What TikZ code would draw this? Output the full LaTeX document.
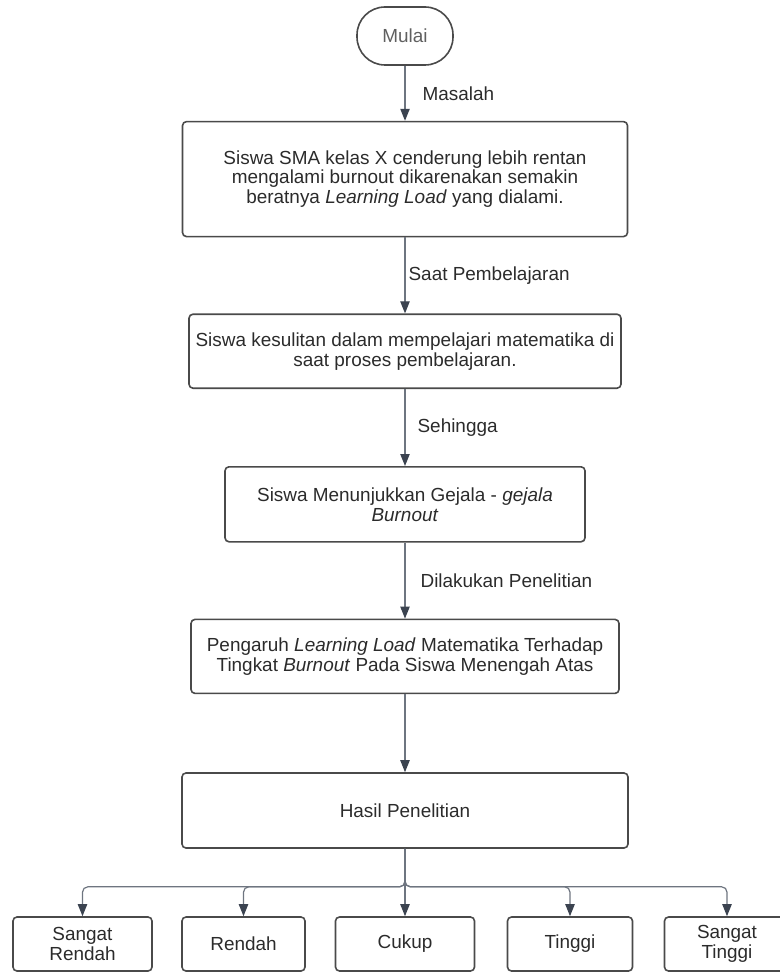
\documentclass[tikz,border=0pt]{standalone}
\usepackage{fontspec}
\setmainfont{Liberation Sans}
\usetikzlibrary{positioning,arrows.meta}
\definecolor{boxgray}{HTML}{4A4A4A}
\definecolor{linegray}{HTML}{6E7580}
\definecolor{tipgray}{HTML}{3B4350}
\definecolor{textdark}{HTML}{2B2B2B}
\tikzset{
  terminal/.style={ % image of the start node
    draw=boxgray, line width=1.2pt, rectangle, rounded corners=21pt,
    minimum width=72pt, minimum height=43.5pt,
    text=textdark!75, font=\fontsize{14.2}{15}\selectfont
  },
  process/.style={ % image of a process box
    draw=boxgray, line width=1.2pt, rectangle, rounded corners=3pt,
    align=center, inner sep=0pt, text=textdark,
    font=\fontsize{14.2}{15}\selectfont
  },
  result/.style={ % image of one result box in the bottom row
    process, minimum height=40.5pt
  },
  flow/.style={ % connector between two boxes
    draw=linegray, line width=0.9pt,
    -{Triangle[width=7pt,length=9pt,color=tipgray]}
  },
  flowtext/.style={ % text beside a connector
    midway, right, inner sep=0pt, text=textdark,
    font=\fontsize{14.2}{15}\selectfont
  }
}
\begin{document}
\begin{tikzpicture}[x=0.75pt, y=-0.75pt, node distance=57pt]
  \useasboundingbox (0,0) rectangle (779,973);

  \node[terminal] (mulai) at (405,36) {Mulai};
  \node[process, minimum width=333.75pt, minimum height=86.25pt,
        font=\fontsize{14.2}{14.5}\selectfont] (masalah)
    [below=41.25pt of mulai]
    {Siswa SMA kelas X cenderung lebih rentan\\ mengalami burnout dikarenakan semakin\\ beratnya \textit{Learning Load} yang dialami.};
  \node[process, minimum width=324pt, minimum height=55.5pt] (belajar)
    [below=of masalah]
    {Siswa kesulitan dalam mempelajari matematika di\\ saat proses pembelajaran.};
  \node[process, minimum width=270pt, minimum height=56.25pt] (gejala)
    [below=57.75pt of belajar]
    {Siswa Menunjukkan Gejala - \textit{gejala}\\ \textit{Burnout}};
  \node[process, minimum width=321pt, minimum height=55.5pt] (pengaruh)
    [below=of gejala]
    {Pengaruh \textit{Learning Load} Matematika Terhadap\\ Tingkat \textit{Burnout} Pada Siswa Menengah Atas};
  \node[process, minimum width=334.5pt, minimum height=56.25pt] (hasil)
    [below=58.5pt of pengaruh] {Hasil Penelitian};

  % bottom row
  \node[result, minimum width=104.25pt] (sr) at (82.5,944) {Sangat\\ Rendah};
  \node[result, minimum width=92.25pt] (r) at (243.5,944) {Rendah};
  \node[result, minimum width=104.25pt] (c) at (405,944) {Cukup};
  \node[result, minimum width=93.75pt] (t) at (570,944) {Tinggi};
  \node[result, minimum width=93.75pt] (st) at (727,944) {Sangat\\ Tinggi};

  \draw[flow] (mulai) -- (masalah) node[flowtext, xshift=12.75pt] {Masalah};
  \draw[flow] (masalah) -- (belajar) node[flowtext, xshift=2.25pt] {Saat Pembelajaran};
  \draw[flow] (belajar) -- (gejala) node[flowtext, xshift=9pt] {Sehingga};
  \draw[flow] (gejala) -- (pengaruh) node[flowtext, xshift=11.25pt] {Dilakukan Penelitian};
  \draw[flow] (pengaruh) -- (hasil);

  \coordinate[below=28.5pt of hasil.south] (split);
  \foreach \n in {sr,r,c,t,st}
    \draw[flow, rounded corners=4pt] (hasil.south) -- (split) -| (\n.north);
\end{tikzpicture}
\end{document}
